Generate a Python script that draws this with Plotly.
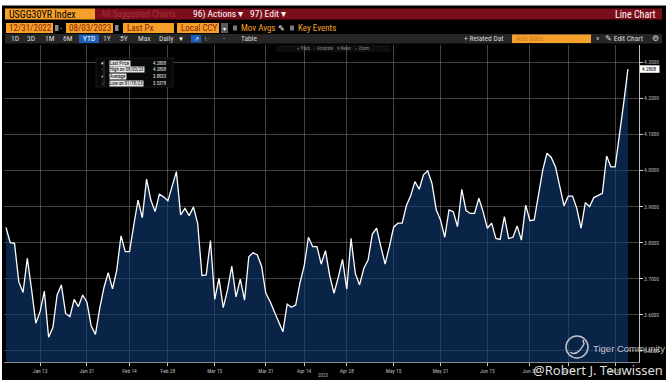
import plotly.graph_objects as go
import pandas as pd

W, H = 670, 386

# ---------------- data ----------------
holidays = ["2023-01-02", "2023-01-16", "2023-02-20", "2023-04-07",
            "2023-05-29", "2023-06-19", "2023-07-04"]
trade_dates = [d.strftime("%Y-%m-%d") for d in
               pd.bdate_range("2023-01-03", "2023-08-03", freq="C", holidays=holidays)]

yields = [
    3.842, 3.800, 3.798, 3.692, 3.662, 3.757, 3.671, 3.577, 3.609, 3.666,
    3.538, 3.565, 3.655, 3.683, 3.604, 3.595, 3.643, 3.623, 3.655, 3.635,
    3.569, 3.546, 3.618, 3.676, 3.717, 3.672, 3.724, 3.819, 3.775, 3.775,
    3.849, 3.918, 3.869, 3.976, 3.918, 3.886, 3.934, 3.927, 3.916, 3.957,
    3.997, 3.877, 3.895, 3.875, 3.899, 3.853, 3.709, 3.711, 3.806, 3.643,
    3.701, 3.620, 3.669, 3.735, 3.650, 3.699, 3.641, 3.761, 3.772, 3.766,
    3.735, 3.660, 3.637, 3.609, 3.581, 3.553, 3.630, 3.621, 3.627, 3.688,
    3.736, 3.815, 3.789, 3.789, 3.741, 3.778, 3.708, 3.660, 3.704, 3.754,
    3.671, 3.812, 3.715, 3.683, 3.729, 3.752, 3.824, 3.840, 3.789, 3.741,
    3.789, 3.843, 3.854, 3.854, 3.903, 3.930, 3.969, 3.948, 3.988, 3.999,
    3.964, 3.891, 3.863, 3.815, 3.891, 3.886, 3.844, 3.948, 3.889, 3.881,
    3.881, 3.923, 3.886, 3.840, 3.854, 3.812, 3.809, 3.872, 3.812, 3.815,
    3.846, 3.807, 3.904, 3.861, 3.863, 3.932, 4.001, 4.048, 4.036, 4.010,
    3.955, 3.902, 3.929, 3.929, 3.895, 3.840, 3.911, 3.900, 3.925, 3.932,
    3.937, 4.040, 4.010, 4.010, 4.092, 4.186, 4.2808,
]

tick_dates = ["2023-01-13", "2023-01-31", "2023-02-14", "2023-02-28", "2023-03-15",
              "2023-03-31", "2023-04-14", "2023-04-28", "2023-05-15", "2023-05-31",
              "2023-06-15", "2023-06-30", "2023-07-14", "2023-07-31"]
tick_labels = ["Jan 13", "Jan 31", "Feb 14", "Feb 28", "Mar 15", "Mar 31", "Apr 14",
               "Apr 28", "May 15", "May 31", "Jun 15", "Jun 30", "Jul 14", "Jul 31"]

legend_marks = ["\u25BC", "\u2191", "+", "\u2193"]
legend_labels = ["Last Price", "High on 08/03/23", "Average", "Low on 01/18/23"]
legend_values = ["4.2808", "4.2808", "3.8033", "3.5378"]
last_price_label = "4.2808"

# ---------------- helpers ----------------
UI = "Liberation Sans Narrow, Roboto Condensed, Arial Narrow, Roboto, sans-serif"
ORANGE = "#f5a02a"
RED = "#7c0d1b"


def fx(x):
    return x / W


def fy(y):
    return 1 - y / H


shapes = []
annotations = []


def rect(x0, y0, x1, y1, fill, line=None, layer="below", lw=0.6):
    shapes.append(dict(type="rect", xref="paper", yref="paper",
                       x0=fx(x0), x1=fx(x1), y0=fy(y1), y1=fy(y0),
                       fillcolor=fill, layer=layer,
                       line=dict(width=lw if line else 0, color=line or fill)))


def txt(x, y, s, size=9, color="white", anchor="left", family=UI, bg=None):
    a = dict(x=fx(x), y=fy(y), xref="paper", yref="paper", text=s, showarrow=False,
             xanchor=anchor, yanchor="middle", borderpad=0,
             font=dict(size=size, color=color, family=family))
    if bg:
        a["bgcolor"] = bg
    annotations.append(a)


# background of the terminal window
rect(2, 5.5, 666, 380, "black")

# ---- row 1: title bar ----
rect(5, 8.5, 95, 19.5, ORANGE)
rect(95, 8.5, 662, 19.5, RED)
txt(8, 14, "USGG30YR Index", 10, "black")
txt(100, 14, "All Suggested Charts", 9, "#a8323f")
txt(192, 14, "96) Actions \u25BE", 9.5, "white")
txt(249, 14, "97) Edit \u25BE", 9.5, "white")
txt(656, 14, "Line Chart", 10, "white", anchor="right")

# ---- row 2: date / field selectors ----
rect(6, 23, 53, 33, ORANGE)
txt(8, 28, "12/31/2022", 9, "#8a2000")
rect(55, 25, 58.5, 31, "#8a8a8a")
txt(61, 28, "-", 8, "#cccccc", anchor="center")
rect(66, 23, 113, 33, ORANGE)
txt(68, 28, "08/03/2023", 9, "#8a2000")
rect(115, 25, 118.5, 31, "#8a8a8a")
rect(123, 23, 174, 33, ORANGE)
txt(126, 28, "Last Px", 9, "#8a2000")
rect(177, 23, 219, 33, ORANGE)
txt(180, 28, "Local CCY", 9, "#8a2000")
rect(221, 23, 228, 33, "#5a5a5a")
txt(224.5, 28.5, "\u25BE", 6, "white", anchor="center")
rect(233, 25.5, 237, 30.5, "#777777")
txt(240, 28, "Mov Avgs", 9, ORANGE)
txt(277, 28, "\u270E", 8, "white")
rect(290, 25.5, 294, 30.5, "#777777")
txt(297, 28, "Key Events", 9, ORANGE)

# ---- row 3: period bar ----
rect(5, 34, 662, 43.5, "#262626")
for lbl, xx in zip(["1D", "3D", "1M", "6M"], [15, 31, 50, 68]):
    txt(xx, 38.8, lbl, 7.5, "#d8d8d8", anchor="center")
rect(79, 34.5, 99, 43, "#1c5fb5")
txt(89, 38.8, "YTD", 7.5, "white", anchor="center")
for lbl, xx in zip(["1Y", "5Y", "Max", "Daily"], [107, 124, 144, 166]):
    txt(xx, 38.8, lbl, 7.5, "#d8d8d8", anchor="center")
txt(181, 38.8, "\u25BC", 6, "white", anchor="center")
rect(191, 35, 201, 42.5, "#1c5fb5")
txt(196, 38.8, "\u2197", 6, "white", anchor="center")
txt(207, 38.8, "1\u2044", 6, "#999999", anchor="center")
txt(224, 38.8, "\u2022", 6, "#999999", anchor="center")
txt(249, 38.8, "Table", 7.5, "#d8d8d8", anchor="center")
txt(463, 38.8, "+ Related Dat", 7.5, "#d8d8d8")
rect(512, 34.5, 591, 43, ORANGE)
txt(515, 38.8, "Add Data", 7.5, "#c9791a")
txt(597, 38.8, "\u00AB", 8, "#d8d8d8", anchor="center")
txt(604, 38.8, "\u270E Edit Chart", 7.5, "#d8d8d8")
txt(655, 38.8, "\u2699", 7.5, "#d8d8d8", anchor="center")

# ---- chart toolbar ----
rect(276, 45, 391, 52, "#0d0d0d")
txt(333, 48.5, "+ Track    \u2044 Annotate    \u2261 News    \u2315 Zoom", 4.5, "#8a8a8a",
    anchor="center")

# ---- legend box ----
rect(96, 58, 173, 87, "#080808", line="#2a2a2a", layer="above")
shapes.append(dict(type="line", xref="paper", yref="paper", x0=fx(104), x1=fx(104),
                   y0=fy(86), y1=fy(60), line=dict(color="#777777", width=0.5)))
for k, (m, l, v) in enumerate(zip(legend_marks, legend_labels, legend_values)):
    yy = 63 + k * 6.7
    txt(102, yy, m, 4.5, "#dddddd", anchor="center")
    txt(109, yy, l, 4.8, "black", bg="#e8e8e8")
    txt(168, yy, v, 4.8, "#e8e8e8", anchor="right")

# ---- last price tag ----
shapes.append(dict(type="rect", xref="paper", yref="paper", x0=fx(640), x1=fx(659.5),
                   y0=fy(72.8), y1=fy(65.3), fillcolor="white", layer="above",
                   line=dict(color="white", width=0)))
txt(649.8, 69.1, last_price_label, 5.2, "black", anchor="center")

# ---- year label ----
txt(323, 374.5, "2023", 5, "#b0b0b0", anchor="center")

# ---- Tiger Community watermark ----
shapes.append(dict(type="circle", xref="paper", yref="paper", x0=fx(566), x1=fx(588),
                   y0=fy(358), y1=fy(336), layer="above",
                   line=dict(color="rgba(225,225,225,0.85)", width=1.5)))
shapes.append(dict(type="path", xref="paper", yref="paper", layer="above",
                   path=f"M {fx(570)},{fy(352)} Q {fx(577)},{fy(357)} {fx(584)},{fy(344)} "
                        f"L {fx(583)},{fy(340)}",
                   line=dict(color="rgba(225,225,225,0.85)", width=1.5)))
txt(592, 348, "Tiger Community", 9.5, "rgba(225,225,225,0.85)",
    family="Liberation Sans, Arial, sans-serif")
txt(598, 370, "@Robert J. Teuwissen", 13, "#dedede", anchor="center",
    family="Noto Sans, Open Sans, sans-serif")

# ---------------- figure ----------------
fig = go.Figure()
fig.add_trace(go.Scatter(
    x=trade_dates, y=yields, mode="lines",
    line=dict(color="white", width=1.3),
    fill="tozeroy", fillcolor="rgba(16,60,120,0.6)",
    hoverinfo="skip", showlegend=False,
))

grid = "rgba(160,160,160,0.42)"
fig.update_layout(
    width=W, height=H,
    margin=dict(l=0, r=0, t=0, b=0),
    paper_bgcolor="white",
    plot_bgcolor="rgba(0,0,0,0)",
    showlegend=False,
    shapes=shapes,
    annotations=annotations,
    xaxis=dict(
        type="category", domain=[fx(4), fx(639)], range=[-0.47, 148.6],
        tickmode="array", tickvals=tick_dates, ticktext=tick_labels,
        showgrid=True, gridcolor=grid, gridwidth=0.6,
        ticks="outside", ticklen=3, tickcolor="#cccccc", tickwidth=0.6,
        tickfont=dict(size=5.5, color="#bdbdbd", family=UI),
        showline=True, linecolor="#8a8a8a", linewidth=0.8,
        zeroline=False, fixedrange=True,
    ),
    yaxis=dict(
        side="right", domain=[fy(362), fy(45)], range=[3.4695, 4.3476],
        tick0=3.5, dtick=0.1, tickformat=".4f",
        showgrid=True, gridcolor=grid, gridwidth=0.6,
        ticks="outside", ticklen=3, tickcolor="#cccccc", tickwidth=0.6,
        tickfont=dict(size=5.5, color="#bdbdbd", family=UI),
        showline=True, linecolor="#bbbbbb", linewidth=0.8,
        zeroline=False, fixedrange=True,
    ),
)

fig.write_html("out.html", config={"displayModeBar": False},
               post_script="document.body.style.margin='0px';"
                           "document.body.style.overflow='hidden';")
